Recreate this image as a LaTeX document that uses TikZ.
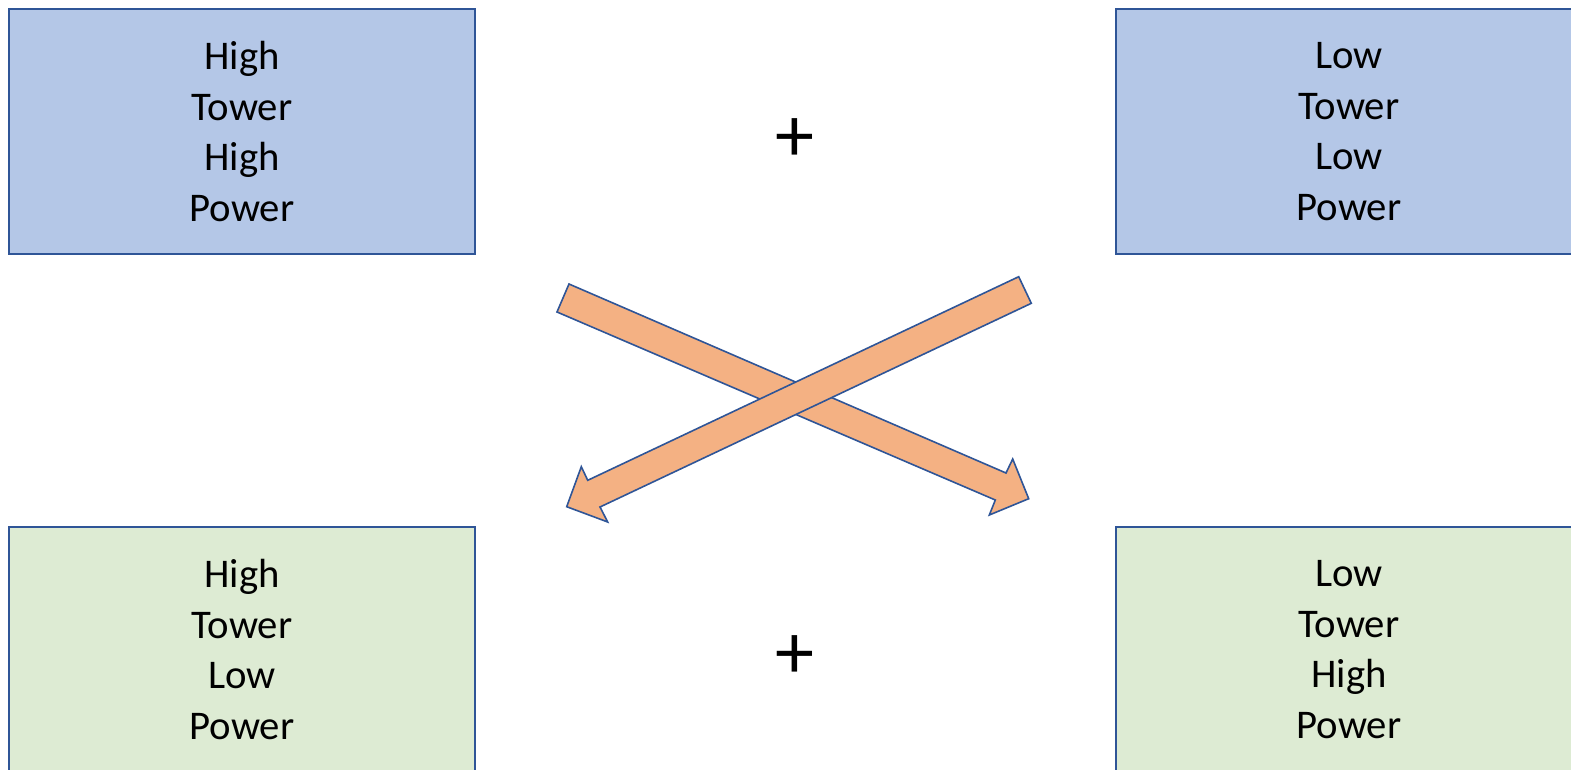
\documentclass[tikz,border=0pt]{standalone}
\usepackage{fontspec}
\setmainfont{Carlito}
\definecolor{boxblue}{HTML}{B4C7E7}
\definecolor{boxgreen}{HTML}{DDEBD3}
\definecolor{edgeblue}{HTML}{2F5597}
\definecolor{arrowfill}{HTML}{F4B183}
\tikzset{
  cell/.style={draw=edgeblue, line width=2pt, minimum width=466pt, minimum height=245pt,
    align=center, inner sep=0pt, font=\fontsize{40.7}{50.5}\selectfont},
  bluecell/.style={cell, fill=boxblue},
  greencell/.style={cell, fill=boxgreen},
  plussign/.style={font=\fontsize{78}{78}\selectfont, inner sep=0pt},
  blockarrow/.style={draw=edgeblue, line width=1.6pt, fill=arrowfill, line join=miter}
}
\begin{document}
\begin{tikzpicture}[x=1pt,y=-1pt]
\useasboundingbox (0,0) rectangle (1571,769);
\node[bluecell] (tl) at (242,131.5) {High\\Tower\\High\\Power};
\node[bluecell] (tr) at (1349,131.5) {Low\\Tower\\Low\\Power};
\node[greencell] (bl) at (242,649.5) {High\\Tower\\Low\\Power};
\node[greencell] (br) at (1349,649.5) {Low\\Tower\\High\\Power};
\node[plussign] (p1) at (795,140) {+};
\node[plussign] (p2) at (795,657) {+};
% arrow from upper left to lower right
\draw[blockarrow] (569,284) -- (1006,473) -- (1012.7,459) -- (1028.7,498.7)
  -- (989.3,515) -- (995.3,500) -- (557,312) -- cycle;
% arrow from upper right to lower left
\draw[blockarrow] (1018.7,276.7) -- (587.7,480.3) -- (581.3,466.7) -- (566.7,506.7)
  -- (607.7,522) -- (600,507) -- (1031.3,303.3) -- cycle;
\end{tikzpicture}
\end{document}
